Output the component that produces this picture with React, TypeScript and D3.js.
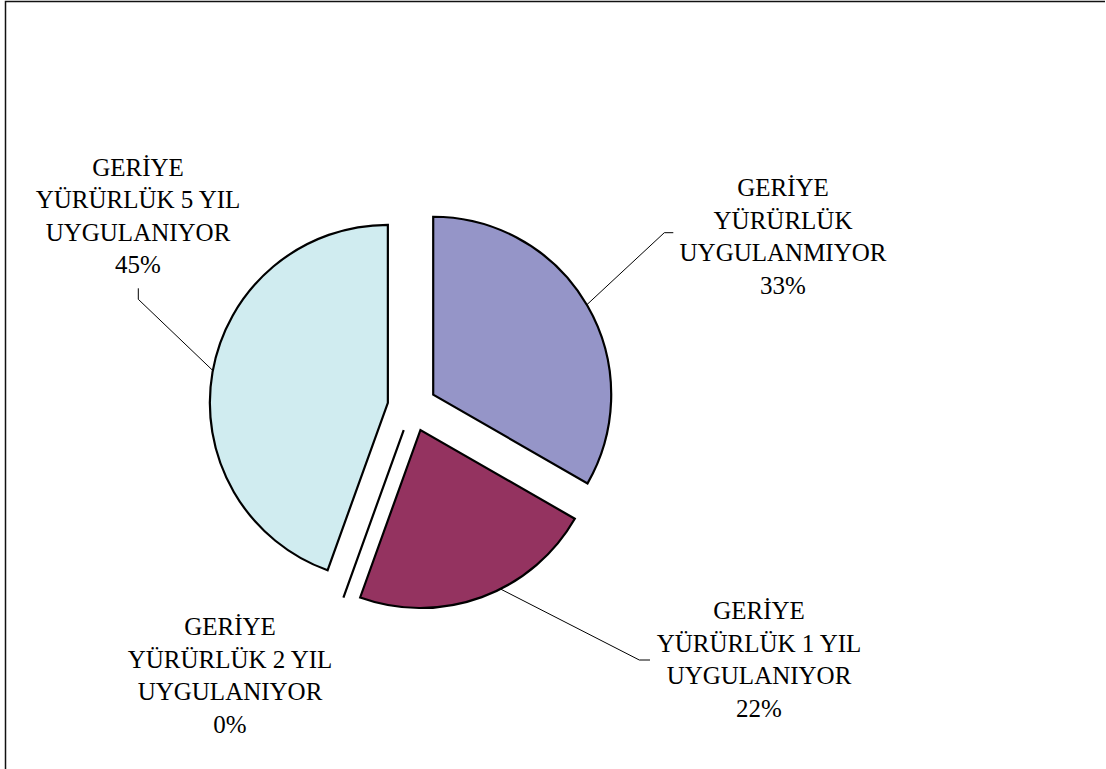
import React from "react";
import * as d3 from "d3";

const categories = [
  "GERİYE YÜRÜRLÜK UYGULANMIYOR",
  "GERİYE YÜRÜRLÜK 1 YIL UYGULANIYOR",
  "GERİYE YÜRÜRLÜK 2 YIL UYGULANIYOR",
  "GERİYE YÜRÜRLÜK 5 YIL UYGULANIYOR",
];
const labelLines = [
  ["GERİYE", "YÜRÜRLÜK", "UYGULANMIYOR"],
  ["GERİYE", "YÜRÜRLÜK 1 YIL", "UYGULANIYOR"],
  ["GERİYE", "YÜRÜRLÜK 2 YIL", "UYGULANIYOR"],
  ["GERİYE", "YÜRÜRLÜK 5 YIL", "UYGULANIYOR"],
];
const values = [33.3, 22.2, 0, 44.5];
const colors = ["#9595C8", "#943360", "#D0ECF0", "#D0ECF0"];

const W = 1106;
const H = 769;
const cx = 412;
const cy = 407;
const R = 178;
const explode = 24.5;

const labelPos = [
  { x: 783, y: 196 },
  { x: 759, y: 619 },
  { x: 230, y: 635 },
  { x: 138, y: 175.5 },
];
const lineH = 32.5;

export default function App() {
  const total = d3.sum(values);
  const pie = d3
    .pie<number>()
    .sort(null)
    .startAngle(0)
    .endAngle(2 * Math.PI)(values);
  const arc = d3.arc<d3.PieArcDatum<number>>().innerRadius(0).outerRadius(R);

  const offsets = pie.map((p) => {
    const mid = (p.startAngle + p.endAngle) / 2;
    return [Math.sin(mid) * explode, -Math.cos(mid) * explode];
  });

  const pt = (i: number, ang: number, r: number) => [
    cx + offsets[i][0] + Math.sin(ang) * r,
    cy + offsets[i][1] - Math.cos(ang) * r,
  ];
  const angTo = (i: number, x: number, y: number) =>
    Math.atan2(x - (cx + offsets[i][0]), -(y - (cy + offsets[i][1])));
  const leaders: [number, number][][] = [];
  {
    const a0 = pt(0, angTo(0, 589.3, 303.3), R);
    leaders.push([[a0[0], a0[1]], [664.3, 232.7], [673.3, 232.7]]);
    const a1 = pt(1, angTo(1, 505, 598), R);
    leaders.push([[a1[0], a1[1]], [639.3, 660], [650, 660]]);
    const a3 = pt(3, angTo(3, 210, 370), R);
    leaders.push([[a3[0], a3[1]], [138.3, 299.3], [138.3, 288.3]]);
  }

  const line = d3.line();

  const texts: { key: string; x: number; y: number; t: string }[] = [];
  labelLines.forEach((lines, i) => {
    [...lines, `${Math.round((values[i] / total) * 100)}%`].forEach((t, j) => {
      texts.push({ key: `${i}-${j}`, x: labelPos[i].x, y: labelPos[i].y + j * lineH, t });
    });
  });

  return (
    <svg width={W} height={H} style={{ position: "absolute", left: 0, top: 0 }}>
      <rect x={0} y={0} width={W} height={H} fill="#fff" />
      <path d={`M5.5,${H} V1.5 H${W - 1}`} fill="none" stroke="#111" strokeWidth={1.5} />
      <g>
        {pie.map((p, i) => (
          <path
            key={categories[i]}
            d={arc(p) || ""}
            transform={`translate(${cx + offsets[i][0]},${cy + offsets[i][1]})`}
            fill={colors[i]}
            stroke="#000"
            strokeWidth={2.2}
            strokeLinejoin="miter"
          />
        ))}
      </g>
      <g fill="none" stroke="#000" strokeWidth={1}>
        {leaders.map((l, i) => (
          <path key={i} d={line(l) || ""} />
        ))}
      </g>
      {texts.map((d) => (
        <text
          key={d.key}
          x={d.x}
          y={d.y}
          fontSize={25}
          fontFamily="Times New Roman"
          textAnchor="middle"
          fill="#000"
        >
          {d.t}
        </text>
      ))}
    </svg>
  );
}
